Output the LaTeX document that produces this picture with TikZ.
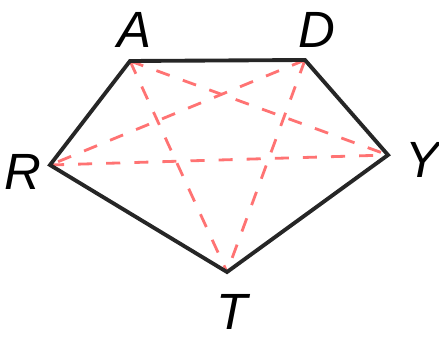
\documentclass[tikz,border=0pt]{standalone}
\usepackage{fontspec}
\setsansfont{Liberation Sans}
\usepackage{tikz}
\usetikzlibrary{positioning}

\begin{document}
\begin{tikzpicture}[
  x=0.02cm, y=-0.02cm,
  every node/.style={font=\sffamily\itshape\fontsize{29}{31}\selectfont},
  side/.style={draw=black!85, line width=2.2pt, line join=miter},
  diag/.style={draw=red!55!white, line width=1.6pt, dash pattern=on 8pt off 8pt}
]
\useasboundingbox (0,0) rectangle (439,337);
\coordinate (A) at (130,61);
\coordinate (D) at (305,60);
\coordinate (Y) at (388,155);
\coordinate (T) at (227,272);
\coordinate (R) at (50,165);
% diagonals
\draw[diag] (A) -- (Y);
\draw[diag] (A) -- (T);
\draw[diag] (D) -- (R);
\draw[diag] (D) -- (T);
\draw[diag] (R) -- (Y);
% pentagon
\draw[side] (R) -- (A) -- (D) -- (Y) -- (T) -- cycle;
\node (lA) at (134,30) {A};
\node (lD) at (317,30) {D};
\node (lY) at (422,160) {Y};
\node (lR) at (23,172) {R};
\node (lT) at (232,312) {T};
\end{tikzpicture}
\end{document}
